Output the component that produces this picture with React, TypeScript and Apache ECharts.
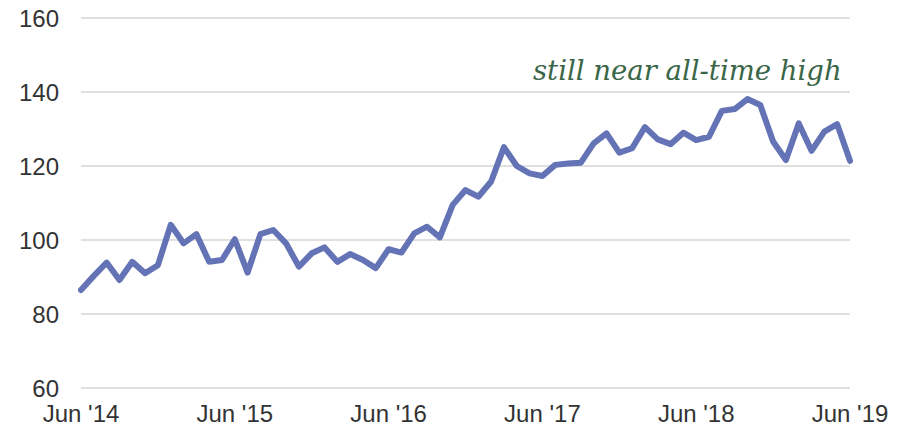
import React, { useEffect, useRef } from "react";
import * as echarts from "echarts";

const months = [
  "Jun '14", "Jul '14", "Aug '14", "Sep '14", "Oct '14", "Nov '14", "Dec '14",
  "Jan '15", "Feb '15", "Mar '15", "Apr '15", "May '15", "Jun '15", "Jul '15",
  "Aug '15", "Sep '15", "Oct '15", "Nov '15", "Dec '15", "Jan '16", "Feb '16",
  "Mar '16", "Apr '16", "May '16", "Jun '16", "Jul '16", "Aug '16", "Sep '16",
  "Oct '16", "Nov '16", "Dec '16", "Jan '17", "Feb '17", "Mar '17", "Apr '17",
  "May '17", "Jun '17", "Jul '17", "Aug '17", "Sep '17", "Oct '17", "Nov '17",
  "Dec '17", "Jan '18", "Feb '18", "Mar '18", "Apr '18", "May '18", "Jun '18",
  "Jul '18", "Aug '18", "Sep '18", "Oct '18", "Nov '18", "Dec '18", "Jan '19",
  "Feb '19", "Mar '19", "Apr '19", "May '19", "Jun '19",
];

const values = [
  86.5, 90.3, 93.9, 89.2, 94.1, 91.0, 93.2, 104.1, 99.1, 101.6, 94.1, 94.6,
  100.2, 91.2, 101.6, 102.7, 99.1, 92.8, 96.4, 98.0, 94.1, 96.2, 94.6, 92.4,
  97.5, 96.6, 101.8, 103.6, 100.7, 109.5, 113.5, 111.7, 115.8, 125.1, 120.0, 118.0,
  117.3, 120.3, 120.7, 120.9, 126.1, 128.8, 123.6, 124.8, 130.5, 127.2, 125.9, 129.0,
  127.0, 127.9, 134.9, 135.4, 138.1, 136.5, 126.6, 121.6, 131.5, 124.1, 129.3, 131.3,
  121.4,
];

const shownLabels = ["Jun '14", "Jun '15", "Jun '16", "Jun '17", "Jun '18", "Jun '19"];
const annotation = "still near all-time high";

export default function App() {
  const ref = useRef<HTMLDivElement>(null);
  useEffect(() => {
    if (!ref.current) return;
    const chart = echarts.init(ref.current, undefined, { renderer: "svg" });
    chart.setOption({
      animation: false,
      backgroundColor: "#ffffff",
      grid: { left: 81, right: 59, top: 18, bottom: 47, containLabel: false },
      xAxis: {
        type: "category",
        data: months,
        boundaryGap: false,
        axisLine: { show: false },
        axisTick: { show: false },
        splitLine: { show: false },
        axisLabel: {
          interval: (i: number, v: string) => shownLabels.includes(v),
          color: "#333333",
          fontFamily: "Liberation Sans, Arial, sans-serif",
          fontSize: 24,
          margin: 13,
          showMinLabel: true,
          showMaxLabel: true,
        },
      },
      yAxis: {
        type: "value",
        min: 60,
        max: 160,
        interval: 20,
        axisLine: { show: false },
        axisTick: { show: false },
        splitLine: { lineStyle: { color: "#d6d6d6", width: 1.5 } },
        axisLabel: {
          color: "#333333",
          fontFamily: "Liberation Sans, Arial, sans-serif",
          fontSize: 24,
          margin: 22,
        },
      },
      series: [
        {
          type: "line",
          data: values,
          showSymbol: false,
          symbol: "none",
          lineStyle: { color: "#6373b5", width: 6, join: "round", cap: "round" },
        },
      ],
      graphic: [
        {
          type: "text",
          left: 533,
          top: 56,
          style: {
            text: annotation,
            fill: "#3a6648",
            font: "italic 27.5px 'DejaVu Serif', serif",
          },
        },
      ],
    });
    return () => chart.dispose();
  }, []);
  return <div ref={ref} style={{ width: 909, height: 435, position: "absolute", left: 0, top: 0 }} />;
}
